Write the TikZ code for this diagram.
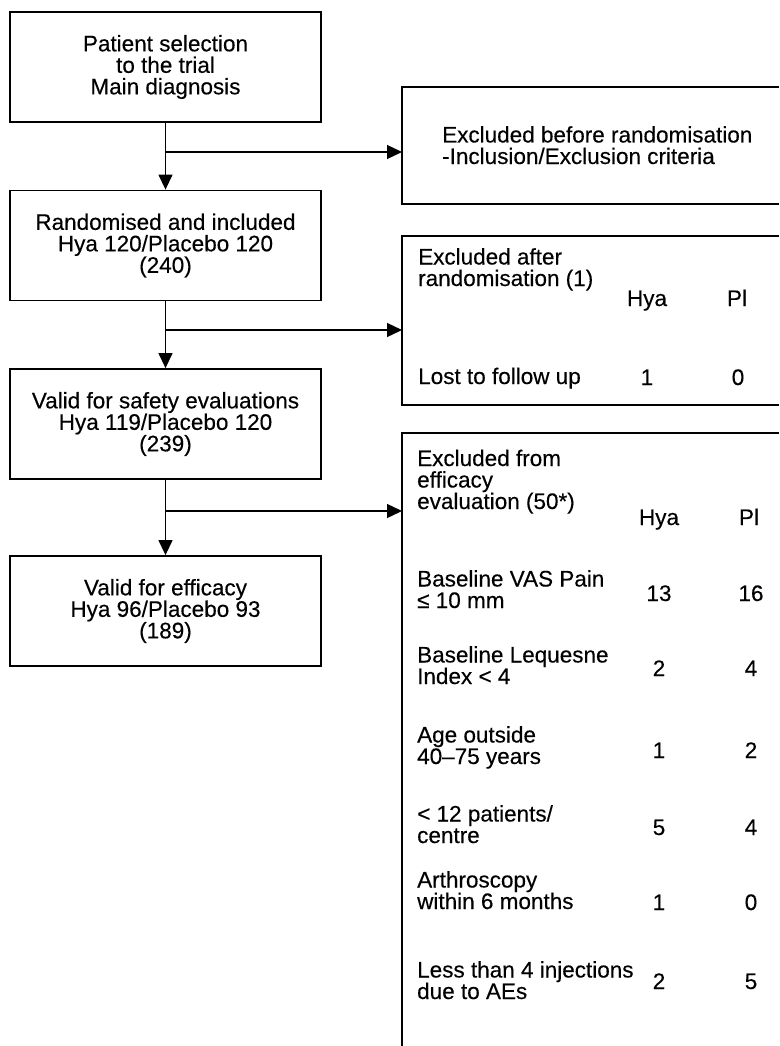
\documentclass[tikz,border=0pt]{standalone}
\usepackage{fontspec}
\setmainfont{Liberation Sans}[FakeBold=0.3]
\usetikzlibrary{arrows.meta}
\newcommand\diagfont{\fontsize{22.5pt}{21.5pt}\selectfont}
\begin{document}
\begin{tikzpicture}[x=1pt,y=-1pt,
  lbox/.style={draw, line width=1.8pt, minimum width=311pt, minimum height=110pt,
    align=center, inner sep=0pt, font=\diagfont},
  rarea/.style={inner sep=0pt, outer sep=0pt, minimum width=377pt, anchor=north west},
  bline/.style={line width=1.8pt},
  conn/.style={line width=1.3pt, -{Triangle[length=15pt,width=14pt]}},
  lab/.style={align=left, inner sep=0pt, font=\diagfont, anchor=base west},
  num/.style={inner sep=0pt, font=\diagfont, anchor=base}
]
\useasboundingbox (0,0) rectangle (779,1046);

% left column
\node[lbox] (b1) at (165.5,67)  {Patient selection\\to the trial\\Main diagnosis};
\node[lbox] (b2) at (165.5,245.5) {Randomised and included\\Hya 120/Placebo 120\\(240)};
\node[lbox] (b3) at (165.5,424) {Valid for safety evaluations\\Hya 119/Placebo 120\\(239)};
\node[lbox] (b4) at (165.5,611) {Valid for efficacy\\Hya 96/Placebo 93\\(189)};

% right boxes (open at the right / bottom edge)
\node[rarea, minimum height=117pt] (r1) at (402,87) {};
\node[rarea, minimum height=169pt] (r2) at (402,236) {};
\node[rarea, minimum height=613pt] (r3) at (402,433) {};
\draw[bline] (r1.north east) -- (r1.north west) -- (r1.south west) -- (r1.south east);
\draw[bline] (r2.north east) -- (r2.north west) -- (r2.south west) -- (r2.south east);
\draw[bline] (r3.north east) -- (r3.north west) -- (r3.south west);

% connectors
\coordinate (j1) at (165.5,152);
\coordinate (j2) at (165.5,330);
\coordinate (j3) at (165.5,511);
\draw[conn] (b1.south) -- (b2.north);
\draw[conn] (b2.south) -- (b3.north);
\draw[conn] (b3.south) -- (b4.north);
\draw[conn] (j1) -- (j1 -| r1.west);
\draw[conn] (j2) -- (j2 -| r2.west);
\draw[conn] (j3) -- (j3 -| r3.west);

% box r1 text (y = baseline of last line)
\node[lab] (r1t) at (442,164) {Excluded before randomisation\\-Inclusion/Exclusion criteria};

% box r2 text
\node[lab] (r2t) at (418,286) {Excluded after\\randomisation (1)};
\node[num] (r2h) at (647,306) {Hya};
\node[num] (r2p) at (737,306) {Pl};
\node[lab] (r2l) at (418,384) {Lost to follow up};
\node[num] (r2la) at (647,385) {1};
\node[num] (r2lb) at (738,385) {0};

% box r3 text
\node[lab] (r3t) at (417,509) {Excluded from\\efficacy\\evaluation (50*)};
\node[num] (r3h) at (659,525) {Hya};
\node[num] (r3p) at (749,525) {Pl};

\node[lab] (c1) at (417,608) {Baseline VAS Pain\\≤ 10 mm};
\node[num] (c1a) at (659,601) {13};
\node[num] (c1b) at (751,601) {16};

\node[lab] (c2) at (417,684) {Baseline Lequesne\\Index < 4};
\node[num] (c2a) at (659,676) {2};
\node[num] (c2b) at (751,676) {4};

\node[lab] (c3) at (417,764) {Age outside\\40–75 years};
\node[num] (c3a) at (659,758) {1};
\node[num] (c3b) at (751,758) {2};

\node[lab] (c4) at (417,843) {< 12 patients/\\centre};
\node[num] (c4a) at (659,835) {5};
\node[num] (c4b) at (751,835) {4};

\node[lab] (c5) at (417,909) {Arthroscopy\\within 6 months};
\node[num] (c5a) at (659,910) {1};
\node[num] (c5b) at (751,910) {0};

\node[lab] (c6) at (417,999) {Less than 4 injections\\due to AEs};
\node[num] (c6a) at (659,989) {2};
\node[num] (c6b) at (751,989) {5};
\end{tikzpicture}
\end{document}
